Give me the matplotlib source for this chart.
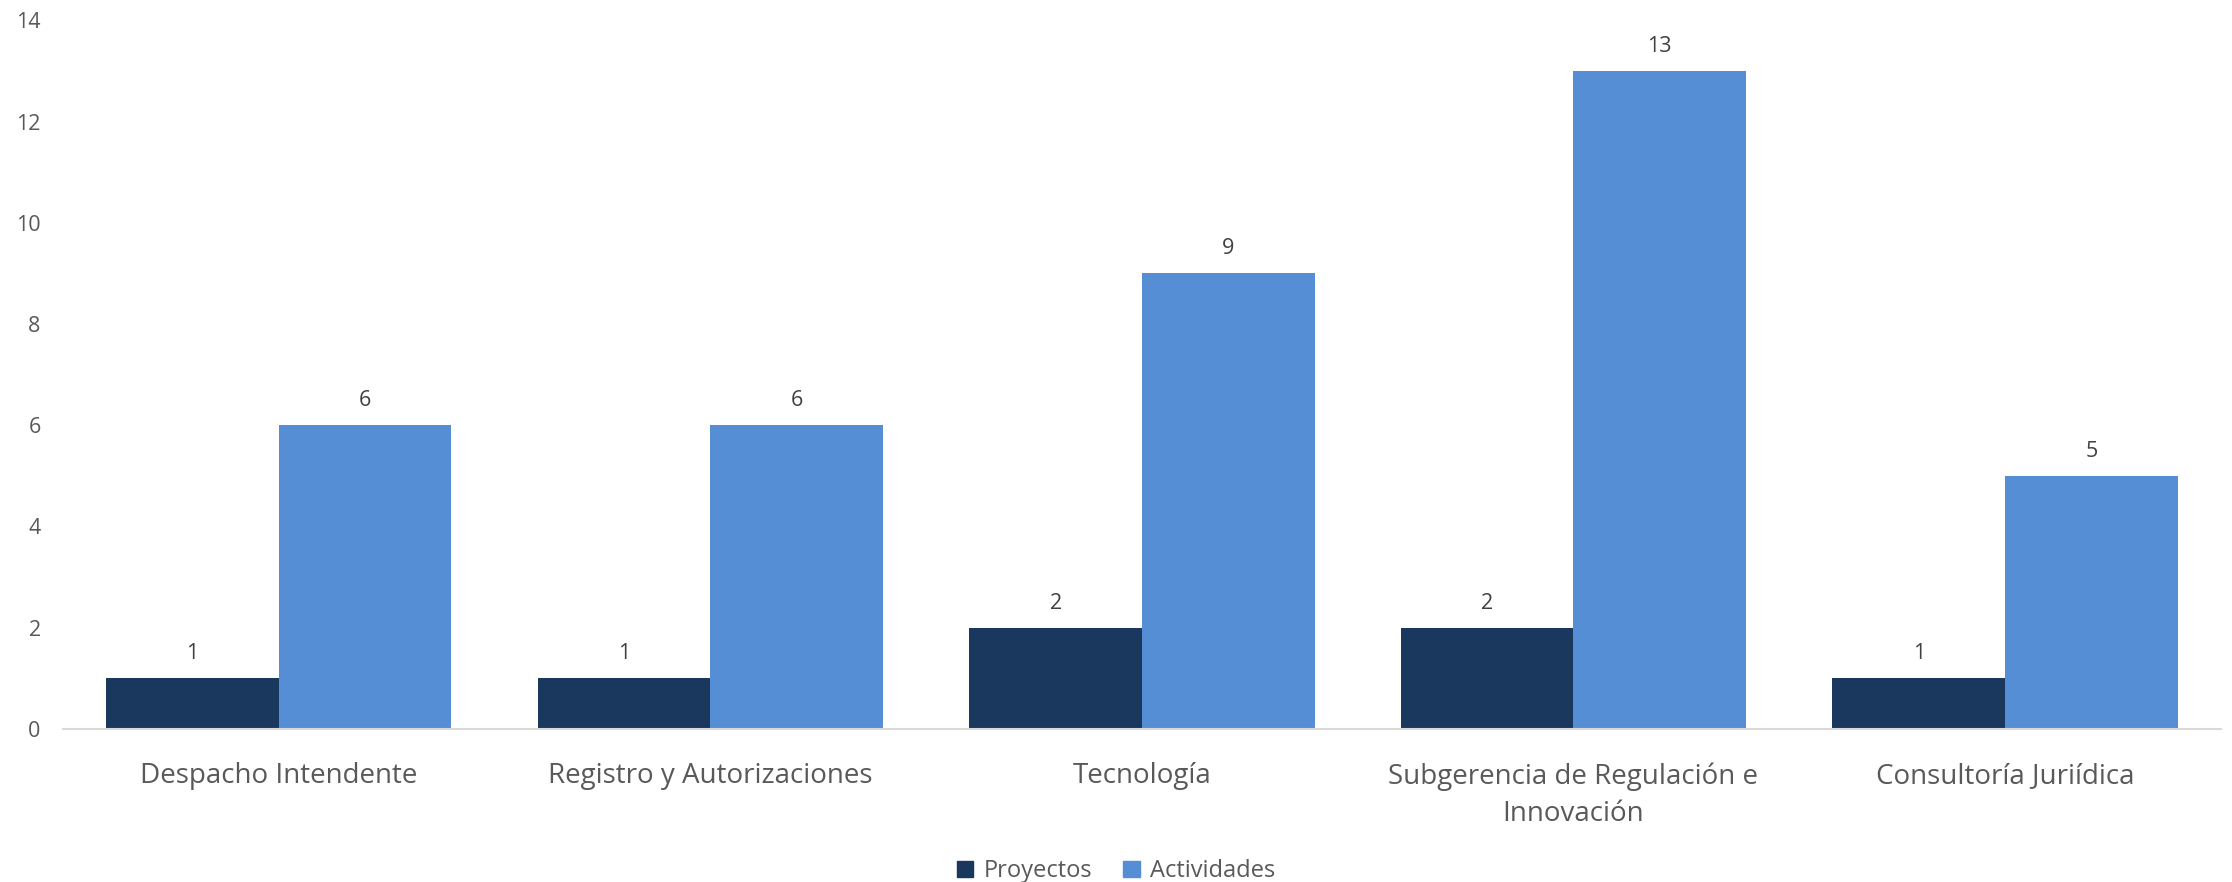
import matplotlib.pyplot as plt
import numpy as np
from matplotlib.patches import Patch

plt.rcParams['font.family'] = ['Open Sans', 'DejaVu Sans']

# Proyectos y actividades por dependencia
categorias = ['Despacho Intendente', 'Registro y Autorizaciones', 'Tecnología',
              'Subgerencia de Regulación e\nInnovación', 'Consultoría Juriídica']
proyectos = [1, 1, 2, 2, 1]
actividades = [6, 6, 9, 13, 5]

color_proy = '#1A375E'
color_act = '#558ED5'

fig = plt.figure(figsize=(22.32, 8.82), dpi=100)
ax = fig.add_axes([0.0282, 0.1735, 0.9668, 0.8035])

x = np.arange(len(categorias))
w = 0.4
b1 = ax.bar(x - w / 2, proyectos, w, color=color_proy)
b2 = ax.bar(x + w / 2, actividades, w, color=color_act)

for barras in (b1, b2):
    for b in barras:
        ax.annotate(f'{int(b.get_height())}', (b.get_x() + b.get_width() / 2, b.get_height()),
                    xytext=(0, 10), textcoords='offset points', ha='center', va='bottom',
                    fontsize=15.5, color='#404040')

ax.set_xlim(-0.5, len(categorias) - 0.5)
ax.set_ylim(0, 14)
ax.set_yticks(range(0, 15, 2))
ax.set_xticks(x)
ax.set_xticklabels(categorias, fontsize=20, color='#595959', linespacing=1.45)
ax.tick_params(axis='y', length=0, pad=16, labelsize=15.5, labelcolor='#595959')
ax.tick_params(axis='x', length=0, pad=24)

for s in ('top', 'right', 'left'):
    ax.spines[s].set_visible(False)
ax.spines['bottom'].set_color('#D9D9D9')
ax.spines['bottom'].set_linewidth(1.5)

handles = [Patch(color=color_proy, label='Proyectos'), Patch(color=color_act, label='Actividades')]
fig.legend(handles=handles, loc='center', bbox_to_anchor=(0.5, 0.012), ncol=2, frameon=False,
           fontsize=17, labelcolor='#595959', handlelength=0.7, handleheight=0.7,
           handletextpad=0.45, columnspacing=1.3)

fig.savefig('out.png', dpi=100, facecolor='white')
